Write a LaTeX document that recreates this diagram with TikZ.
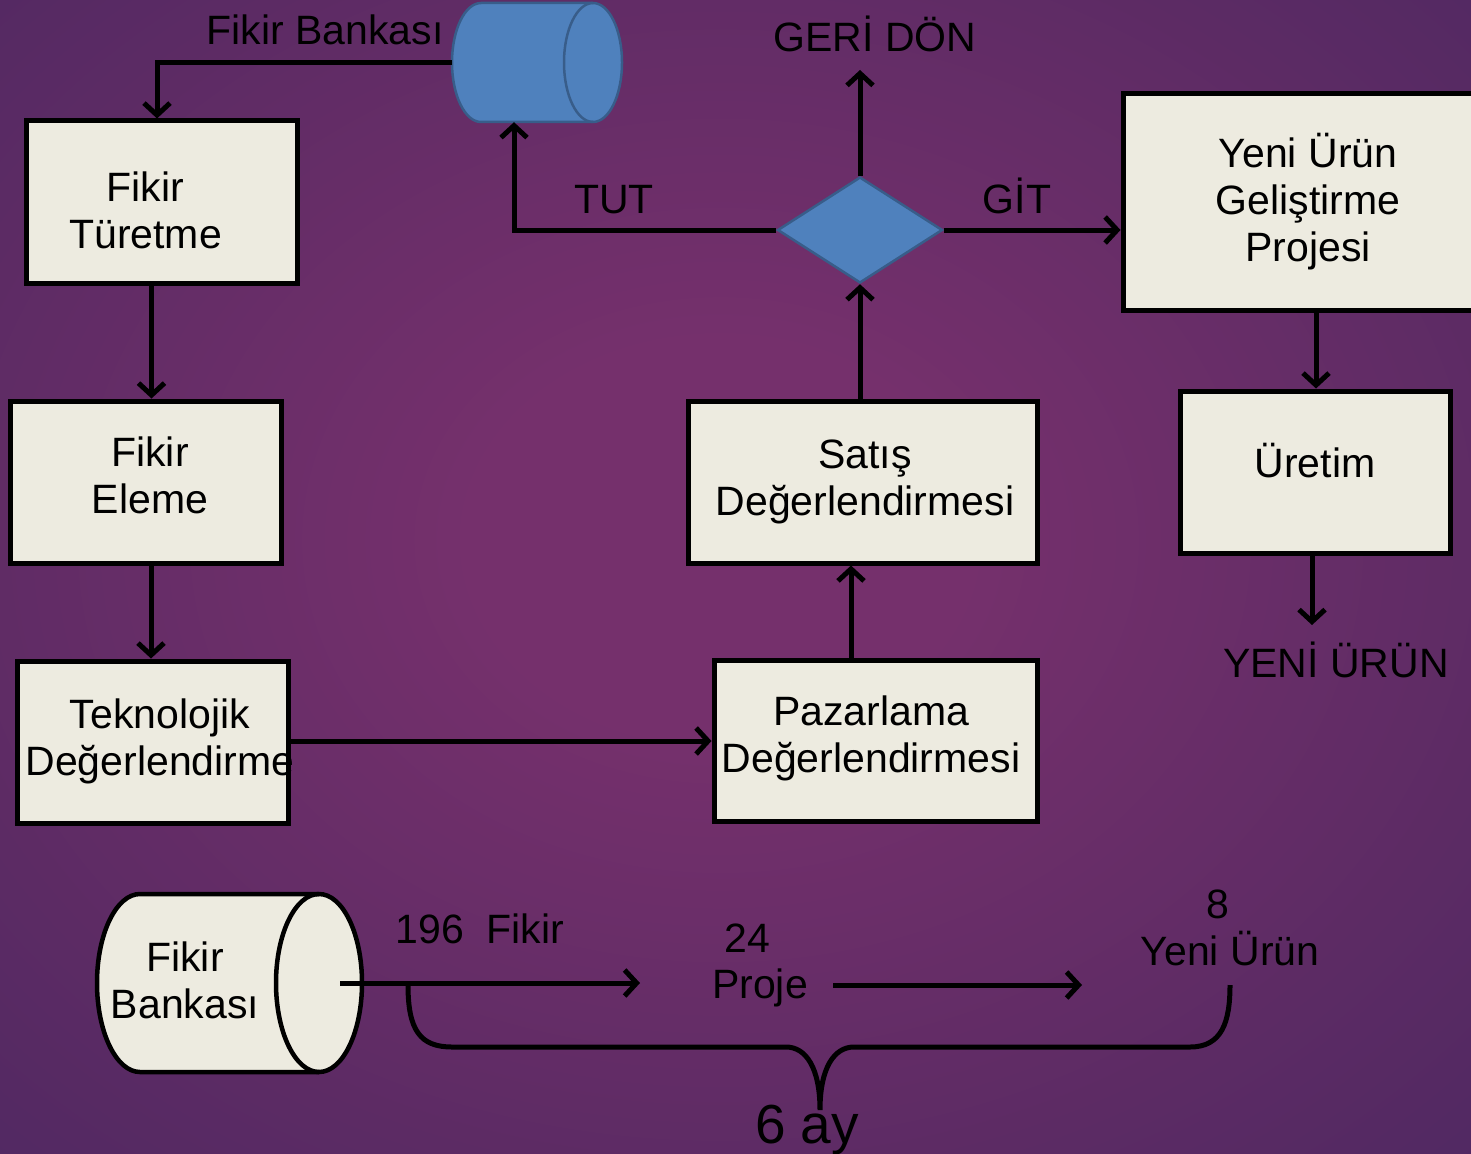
\documentclass[tikz,border=0pt]{standalone}
\usepackage{fontspec}
\setmainfont{Liberation Sans}
\usetikzlibrary{arrows.meta,shapes.geometric}
\definecolor{bgin}{HTML}{75306C}
\definecolor{bgmid}{HTML}{5C2B64}
\definecolor{bgout}{HTML}{432561}
\definecolor{cream}{HTML}{EDEBE0}
\definecolor{blfill}{HTML}{4F81BD}
\definecolor{bldraw}{HTML}{385D8A}
\pgfdeclareradialshading{bgshade}{\pgfpoint{0bp}{0bp}}{color(0bp)=(bgin); color(8bp)=(bgin); color(26bp)=(bgmid); color(46bp)=(bgout); color(80bp)=(bgout)}
\newcommand{\diafont}{\fontsize{41}{47}\selectfont}
\begin{document}
\begin{tikzpicture}[x=1pt,y=-1pt,
  box/.style={draw=black,line width=5pt,fill=cream,inner sep=0pt},
  btext/.style={font=\diafont,align=center,inner sep=0pt,text=black},
  conn/.style={line width=5pt,-{Straight Barb[length=12pt,width=26pt]}},
  plainline/.style={line width=5pt},
  lbl/.style={font=\diafont,inner sep=0pt,anchor=base,text=black}]
\useasboundingbox (0,0) rectangle (1471,1153);
\clip (0,0) rectangle (1471,1153);
\shade[shading=bgshade] (-60,-80) rectangle (1500,1160);

% boxes
\node[box,minimum width=271pt,minimum height=162pt,
  label={[btext,xshift=-16pt,yshift=-8pt]center:Fikir\\Türetme}] (tur) at (161.5,202) {};
\node[box,minimum width=271pt,minimum height=162pt,
  label={[btext,xshift=4.5pt,yshift=7pt]center:Fikir\\Eleme}] (ele) at (145.5,482) {};
\node[box,minimum width=271pt,minimum height=162pt,
  label={[btext,xshift=7.5pt,yshift=1pt]center:Teknolojik\\Değerlendirme}] (tek) at (152.5,742) {};
\node[box,minimum width=323pt,minimum height=161pt,
  label={[btext,xshift=-4.5pt,yshift=2pt]center:Pazarlama\\Değerlendirmesi}] (paz) at (875.5,740.5) {};
\node[box,minimum width=349pt,minimum height=162pt,
  label={[btext,xshift=2.5pt,yshift=0pt]center:Satış\\Değerlendirmesi}] (sat) at (862.5,482) {};
\node[box,minimum width=370pt,minimum height=216pt,
  label={[btext]center:Yeni Ürün\\Geliştirme\\Projesi}] (yup) at (1308,202) {};
\node[box,minimum width=270pt,minimum height=162pt,
  label={[btext,yshift=11pt]center:Üretim}] (ure) at (1315,472) {};

% decision diamond
\node[diamond,draw=bldraw,line width=2.5pt,fill=blfill,minimum width=165pt,minimum height=106pt,inner sep=0pt] (dia) at (860,230) {};

% top bank cylinder
\node[inner sep=0pt,minimum width=170pt,minimum height=119pt] (bank) at (537,62.5) {};
\draw[draw=bldraw,line width=2.5pt,fill=blfill] (481,3) -- (593,3)
  arc[start angle=90,end angle=-90,x radius=29pt,y radius=59.5pt] -- (481,122)
  arc[start angle=270,end angle=90,x radius=29pt,y radius=59.5pt] -- cycle;
\draw[draw=bldraw,line width=2.5pt] (593,3) arc[start angle=90,end angle=270,x radius=29pt,y radius=59.5pt];

% bottom bank cylinder
\node[inner sep=0pt,minimum width=265pt,minimum height=178pt] (bank2) at (229.5,983) {};
\draw[draw=black,line width=4.5pt,fill=cream] (140,894) -- (319,894)
  arc[start angle=90,end angle=-90,x radius=43pt,y radius=89pt] -- (140,1072)
  arc[start angle=270,end angle=90,x radius=43pt,y radius=89pt] -- cycle;
\draw[draw=black,line width=4.5pt] (319,894) arc[start angle=90,end angle=270,x radius=43pt,y radius=89pt];
\node[btext] (bank2txt) at (185,980) {Fikir\\Bankası};

% labels
\node[lbl] (lfb) at (325,45) {Fikir Bankası};
\node[lbl] (lgd) at (875,52) {GERİ DÖN};
\node[lbl] (ltut) at (614,213) {TUT};
\node[lbl] (lgit) at (1017,213) {GİT};
\node[lbl] (lyu) at (1336,677) {YENİ ÜRÜN};
\node[lbl] (l196) at (480,943) {196\ \ Fikir};
\node[lbl] (l24) at (747,952) {24};
\node[lbl] (lproje) at (760,998) {Proje};
\node[lbl] (l8) at (1218,918) {8};
\node[lbl] (lyeni) at (1230,965) {Yeni Ürün};
\node[lbl,font=\fontsize{55}{60}\selectfont] (l6ay) at (807,1143) {6 ay};

% free ends
\coordinate (gd) at (860,70);
\coordinate (yn) at (1312,625);
\coordinate (a1s) at (340,983);
\coordinate (a1e) at (640,983);
\coordinate (a2s) at (833,985);
\coordinate (a2e) at (1082,985);
\coordinate (brs) at (408,985);
\coordinate (brt) at (820,1110);
\coordinate (bre) at (1230,985);

% connectors
\draw[conn] (bank.west) -| ([xshift=-4.5pt]tur.north);
\draw[conn] ([xshift=-10pt]tur.south) -- ([xshift=6pt]ele.north);
\draw[conn] ([xshift=5.5pt]ele.south) -- ([xshift=-1.5pt]tek.north);
\draw[conn] ([yshift=1pt]tek.east) -- ([yshift=1pt]tek.east -| paz.west);
\draw[conn] ([xshift=-24.5pt]paz.north) -- ([xshift=-24.5pt]paz.north |- sat.south);
\draw[conn] (sat.north -| dia.south) -- (dia.south);
\draw[conn] (dia.north) -- (gd);
\draw[conn] (dia.west) -| ([xshift=-23pt]bank.south);
\draw[conn] (dia.east) -- (dia.east -| yup.west);
\draw[conn] ([xshift=8pt]yup.south) -- ([xshift=1pt]ure.north);
\draw[conn] ([xshift=-3pt]ure.south) -- (yn);
\draw[conn] (a1s) -- (a1e);
\draw[conn] (a2s) -- (a2e);

% brace
\draw[plainline] (brs) .. controls (408,1030) and (420,1047) .. (452,1047) -- (786,1047)
  .. controls (806,1047) and (820,1068) .. (brt)
  .. controls (820,1068) and (834,1047) .. (854,1047) -- (1190,1047)
  .. controls (1222,1047) and (1230,1022) .. (bre);
\end{tikzpicture}
\end{document}
